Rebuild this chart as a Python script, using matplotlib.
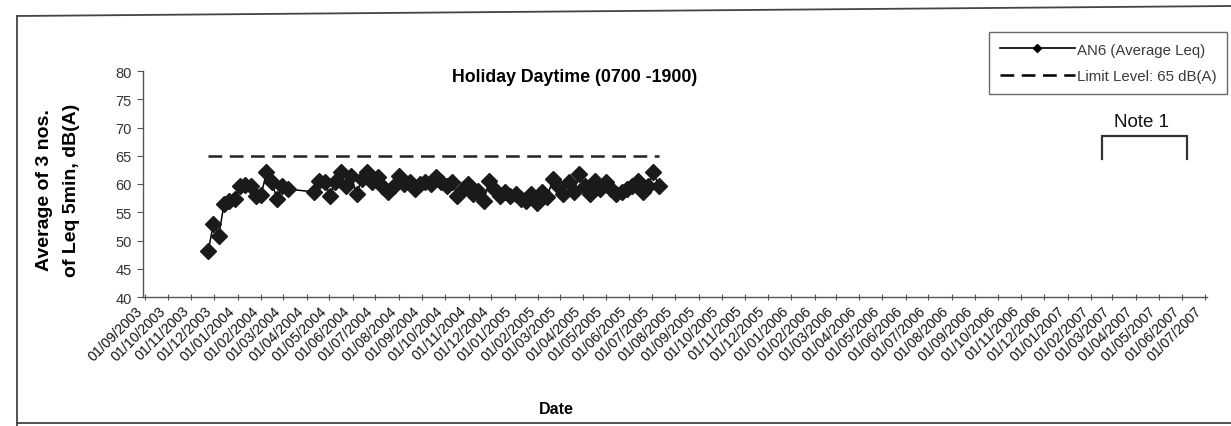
import matplotlib
matplotlib.use("Agg")
import matplotlib.pyplot as plt
import matplotlib.dates as mdates
from matplotlib.lines import Line2D
import numpy as np
import pandas as pd

plt.rcParams['font.family'] = ['Liberation Sans', 'DejaVu Sans']

# Holiday (Sunday) daytime averages
dates = ['2003-11-23', '2003-11-30', '2003-12-07', '2003-12-14', '2003-12-21', '2003-12-28',
         '2004-01-04', '2004-01-11', '2004-01-18', '2004-01-25', '2004-02-01', '2004-02-08',
         '2004-02-15', '2004-02-22', '2004-02-29', '2004-03-07',
         '2004-04-11', '2004-04-18', '2004-04-25', '2004-05-02', '2004-05-09', '2004-05-16',
         '2004-05-23', '2004-05-30', '2004-06-06', '2004-06-13', '2004-06-20', '2004-06-27',
         '2004-07-04', '2004-07-11', '2004-07-18', '2004-07-25', '2004-08-01', '2004-08-08',
         '2004-08-15', '2004-08-22', '2004-08-29', '2004-09-05', '2004-09-12', '2004-09-19',
         '2004-09-26', '2004-10-03', '2004-10-10', '2004-10-17', '2004-10-24', '2004-10-31',
         '2004-11-07', '2004-11-14', '2004-11-21', '2004-11-28', '2004-12-05', '2004-12-12',
         '2004-12-19', '2004-12-26', '2005-01-02', '2005-01-09', '2005-01-16', '2005-01-23',
         '2005-01-30', '2005-02-06', '2005-02-13', '2005-02-20', '2005-02-27', '2005-03-06',
         '2005-03-13', '2005-03-20', '2005-03-27', '2005-04-03', '2005-04-10', '2005-04-17',
         '2005-04-24', '2005-05-01', '2005-05-08', '2005-05-15', '2005-05-22', '2005-05-29',
         '2005-06-05', '2005-06-12', '2005-06-19', '2005-06-26', '2005-07-03', '2005-07-10']
leq = [48.1, 52.9, 50.8, 56.5, 57.0, 57.3,
       59.6, 59.8, 59.6, 57.9, 58.0, 62.1,
       60.4, 57.3, 59.6, 59.1,
       58.6, 60.5, 60.4, 57.9, 60.4, 62.1,
       59.6, 61.4, 58.2, 60.9, 62.1, 60.4,
       61.2, 59.5, 58.6, 59.6, 61.4, 60.0,
       60.4, 59.1, 60.0, 60.4, 60.0, 61.2,
       60.4, 59.6, 60.4, 57.9, 59.1, 60.0,
       58.2, 58.8, 57.0, 60.5, 59.1, 57.9,
       58.6, 57.9, 58.2, 57.3, 57.0, 58.2,
       56.6, 58.6, 57.7, 60.9, 59.6, 58.2,
       60.4, 58.6, 61.8, 59.6, 58.2, 60.5,
       59.1, 60.4, 59.1, 58.2, 58.6, 59.1,
       59.6, 60.5, 58.6, 59.6, 62.1, 59.6]

limit_dates = ['2003-11-23', '2005-07-10']
limit_level = [65, 65]

note_dates = ['2007-02-15', '2007-06-08']
note_low, note_high = 64.5, 68.5
note_label_date = '2007-04-09'

x_range = ['2003-08-29', '2007-07-04']
y_ticks = [40, 45, 50, 55, 60, 65, 70, 75, 80]

W, H = 1231, 427
fig = plt.figure(figsize=(W / 100, H / 100), dpi=100)
fig.patch.set_facecolor('white')

# plot area in pixel terms of the reference
ax = fig.add_axes([143 / W, 1 - 298 / H, (1207 - 143) / W, (298 - 72) / H])

x = pd.to_datetime(dates)
ax.plot(x, leq, color='black', lw=1.1, marker='D', markersize=8,
        markerfacecolor='#1a1a1a', markeredgecolor='#1a1a1a', zorder=3)
ax.plot(pd.to_datetime(limit_dates), limit_level, color='#222222', lw=1.8,
        dashes=(5.5, 3))

# Note 1 bracket
nd = pd.to_datetime(note_dates)
ax.plot([nd[0], nd[0], nd[1], nd[1]], [note_low, note_high, note_high, note_low],
        color='#333333', lw=1.6, solid_joinstyle='miter')
ax.text(pd.to_datetime(note_label_date), 71.0, 'Note 1', ha='center', va='center',
        fontsize=13.5, color='#111111')

ax.set_xlim(pd.to_datetime(x_range[0]), pd.to_datetime(x_range[1]))
ax.set_ylim(40, 80)
ax.set_yticks(y_ticks)

ax.xaxis.set_major_locator(mdates.MonthLocator(bymonthday=1))
ax.xaxis.set_major_formatter(mdates.DateFormatter('%d/%m/%Y'))

for side in ['top', 'right']:
    ax.spines[side].set_visible(False)
for side in ['left', 'bottom']:
    ax.spines[side].set_color('#555555')
    ax.spines[side].set_linewidth(1.0)

ax.tick_params(axis='y', direction='out', length=4, width=0.8, color='#555555',
               labelsize=10.5, labelcolor='#333333', pad=4)
ax.tick_params(axis='x', direction='inout', length=5, width=0.8, color='#555555',
               labelsize=10.2, labelcolor='#111111', pad=9)
for lbl in ax.get_xticklabels():
    lbl.set_rotation(45)
    lbl.set_rotation_mode('anchor')
    lbl.set_ha('right')
    lbl.set_va('bottom')

# titles and labels placed like the scanned excel chart
fig.text(575 / W, 1 - 78 / H, 'Holiday Daytime (0700 -1900)', ha='center', va='center',
         fontsize=12.8, fontweight='bold')
fig.text(58 / W, 1 - 190 / H, 'Average of 3 nos.\nof Leq 5min, dB(A)', rotation=90,
         ha='center', va='center', multialignment='center', fontsize=14,
         fontweight='bold', linespacing=1.75)
fig.text(556 / W, 1 - 410 / H, 'Date', ha='center', va='center', fontsize=11.5,
         fontweight='bold')

handles = [Line2D([], [], color='black', lw=1.2, marker='D', markersize=4),
           Line2D([], [], color='black', lw=1.8, dashes=(5.5, 3))]
leg = ax.legend(handles, ['AN6 (Average Leq)', 'Limit Level: 65 dB(A)'],
                loc='upper right', bbox_to_anchor=(1227 / W, 1 - 33 / H),
                bbox_transform=fig.transFigure, fontsize=10.8, frameon=True,
                fancybox=False, handlelength=5.0, handletextpad=0.15,
                borderpad=0.7, labelspacing=0.85, borderaxespad=0)
leg.get_frame().set_edgecolor('#444444')
leg.get_frame().set_linewidth(1.0)
for t in leg.get_texts():
    t.set_color('#3a3a3a')

# border of the scanned page
for xs, ys in [([17 / W, 1.0], [1 - 17 / H, 1 - 7 / H]),
               ([17 / W, 17 / W], [1 - 17 / H, 0.0]),
               ([17 / W, 1.0], [1 - 424 / H, 1 - 424 / H])]:
    fig.add_artist(Line2D(xs, ys, transform=fig.transFigure, color='#444444', lw=1.3))

plt.savefig('out.png', dpi=100)
